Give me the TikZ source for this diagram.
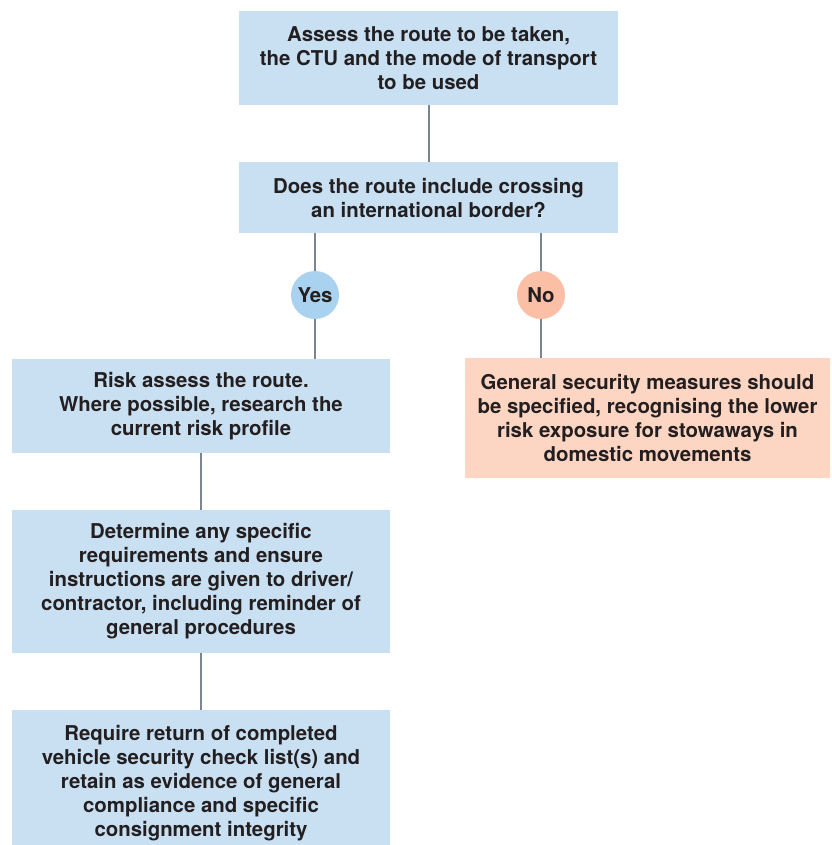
\documentclass[tikz,border=0pt]{standalone}
\usepackage{fontspec}
\setmainfont{TeX Gyre Heros}
\definecolor{boxblue}{HTML}{C9E0F3}
\definecolor{yesblue}{HTML}{A9D1F0}
\definecolor{noorange}{HTML}{FBBFA6}
\definecolor{boxorange}{HTML}{FDD5C3}
\definecolor{linegray}{HTML}{7B8591}
\definecolor{txt}{HTML}{231F20}
\begin{document}
\begin{tikzpicture}[x=1pt,y=-1pt,
  box/.style={fill=boxblue, draw=none, align=center, inner sep=0pt, text=txt,
    font=\fontsize{20.4}{24}\selectfont\bfseries},
  obox/.style={box, fill=boxorange},
  circ/.style={circle, draw=none, minimum size=48pt, inner sep=0pt, text=txt,
    font=\fontsize{20.4}{22}\selectfont\bfseries},
  conn/.style={draw=linegray, line width=2pt}]
\useasboundingbox (0,0) rectangle (831,845);
\node[box, minimum width=379pt, minimum height=94pt] (a) at (428.5,58)
  {Assess the route to be taken,\\the CTU and the mode of transport\\to be used};
\node[box, minimum width=379pt, minimum height=71pt] (b) at (428.5,197.5)
  {Does the route include crossing\\an international border?};
\node[circ, fill=yesblue] (yes) at (315,295) {Yes};
\node[circ, fill=noorange] (no) at (541,295) {No};
\node[box, minimum width=378pt, minimum height=94pt] (c) at (201,406)
  {Risk assess the route.\\Where possible, research the\\current risk profile};
\node[obox, minimum width=365pt, minimum height=120pt] (n) at (647.5,418)
  {General security measures should\\be specified, recognising the lower\\risk exposure for stowaways in\\domestic movements};
\node[box, minimum width=378pt, minimum height=143pt] (d) at (201,581.5)
  {Determine any specific\\requirements and ensure\\instructions are given to driver/\\contractor, including reminder of\\general procedures};
\node[box, minimum width=378pt, minimum height=147pt] (e) at (201,783.5)
  {Require return of completed\\vehicle security check list(s) and\\retain as evidence of general\\compliance and specific\\consignment integrity};
\draw[conn] (a.south) -- (b.north);
\draw[conn] (b.south -| yes) -- (yes.north);
\draw[conn] (yes.south) -- (yes.south |- c.north);
\draw[conn] (b.south -| no) -- (no.north);
\draw[conn] (no.south) -- (no.south |- n.north);
\draw[conn] (c.south) -- (d.north);
\draw[conn] (d.south) -- (e.north);
\end{tikzpicture}
\end{document}
